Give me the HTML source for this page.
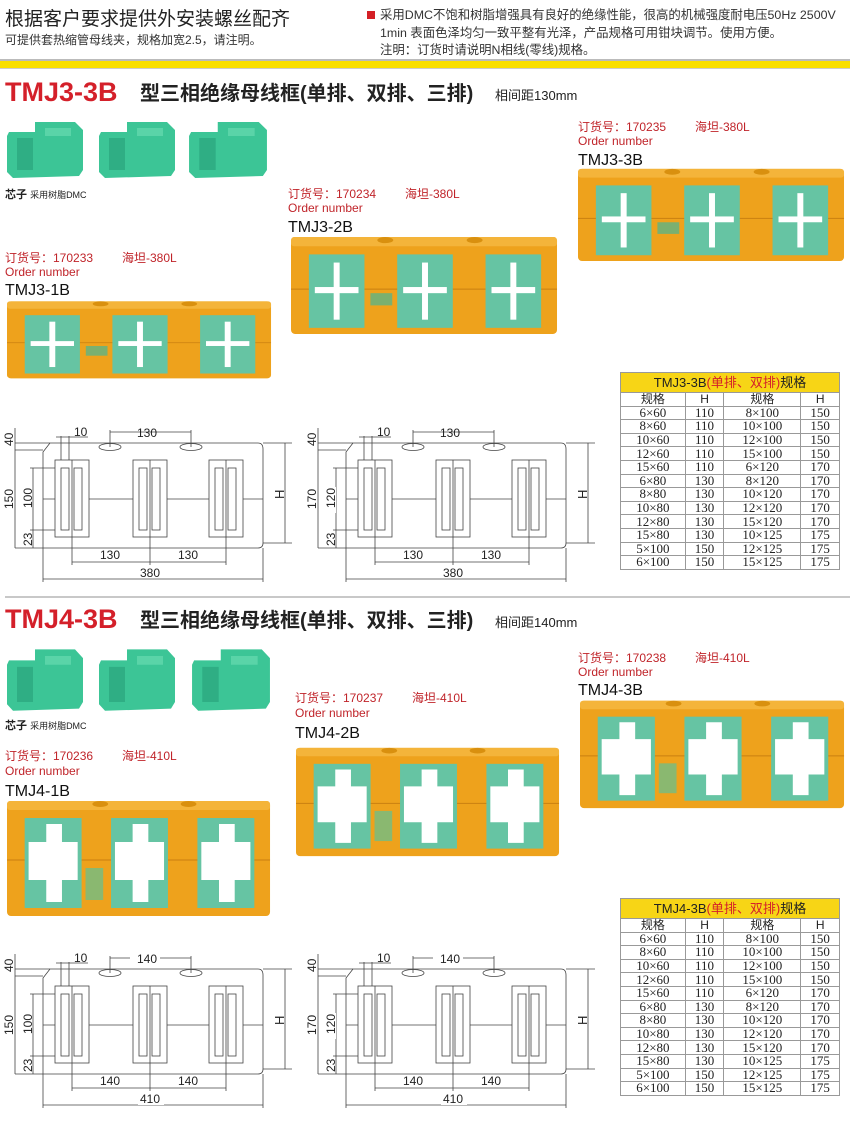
<!DOCTYPE html>
<html><head><meta charset="utf-8"><style>
html,body{margin:0;padding:0;background:#fff}
body{width:850px;height:1121px;position:relative;overflow:hidden;font-family:"Liberation Sans","Noto Sans CJK SC",sans-serif}
svg text{font-family:"Liberation Sans","Noto Sans CJK SC",sans-serif}
.tb{position:absolute;left:620px;width:220px;border-collapse:collapse;font-family:"Liberation Serif","Noto Serif CJK SC",serif;font-size:13px;color:#222}
.tb td{border:1px solid #999;height:12.6px;padding:0;line-height:12px;text-align:center}
.tb tr.h td{background:#f7d516;height:19px;font-family:"Liberation Sans","Noto Sans CJK SC",sans-serif;font-size:13px}
.tb tr.s td{font-family:"Liberation Sans","Noto Sans CJK SC",sans-serif;font-size:12px}
</style></head><body>
<svg width="850" height="1121" viewBox="0 0 850 1121" style="position:absolute;left:0;top:0">
<defs>
<symbol id="f1" viewBox="0 0 270 100" preserveAspectRatio="none">
<rect x="0" y="3" width="268" height="95" rx="4" fill="#eea21c"/>
<rect x="0" y="3" width="268" height="9" rx="3" fill="#f4b43a"/>
<line x1="0" y1="54" x2="268" y2="54" stroke="#c97f10" stroke-width="1"/>
<ellipse cx="95" cy="6" rx="8" ry="3" fill="#d9900f"/><ellipse cx="185" cy="6" rx="8" ry="3" fill="#d9900f"/>
<g fill="#66c4a3"><rect x="18" y="20" width="56" height="72"/><rect x="107" y="20" width="56" height="72"/><rect x="196" y="20" width="56" height="72"/></g>
<g fill="#fff"><rect x="43" y="28" width="6" height="56"/><rect x="24" y="52" width="44" height="6"/><rect x="132" y="28" width="6" height="56"/><rect x="113" y="52" width="44" height="6"/><rect x="221" y="28" width="6" height="56"/><rect x="202" y="52" width="44" height="6"/></g>
<rect x="80" y="58" width="22" height="12" fill="#7ab070"/>
</symbol>
<symbol id="f2" viewBox="0 0 270 120" preserveAspectRatio="none">
<rect x="0" y="3" width="268" height="115" rx="4" fill="#eea21c"/>
<rect x="0" y="3" width="268" height="9" rx="3" fill="#f4b43a"/>
<line x1="0" y1="62" x2="268" y2="62" stroke="#c97f10" stroke-width="1"/>
<ellipse cx="95" cy="6" rx="8" ry="3" fill="#d9900f"/><ellipse cx="185" cy="6" rx="8" ry="3" fill="#d9900f"/>
<g fill="#66c4a3"><rect x="18" y="20" width="58" height="90"/><rect x="106" y="20" width="58" height="90"/><rect x="194" y="20" width="58" height="90"/></g>
<g fill="#fff"><polygon points="40,26 56,26 56,44 72,44 72,82 56,82 56,104 40,104 40,82 22,82 22,44 40,44"/><polygon points="128,26 144,26 144,44 160,44 160,82 144,82 144,104 128,104 128,82 110,82 110,44 128,44"/><polygon points="216,26 232,26 232,44 248,44 248,82 232,82 232,104 216,104 216,82 198,82 198,44 216,44"/></g>
<rect x="80" y="70" width="18" height="32" fill="#8ab870"/>
</symbol>
<symbol id="c" viewBox="0 0 80 62" preserveAspectRatio="none">
<polygon points="4,14 30,14 30,4 70,4 78,12 78,52 74,58 8,60 2,54 2,18" fill="#3cc596"/>
<polygon points="12,20 28,20 28,52 12,52" fill="#2fae84"/>
<polygon points="40,10 66,10 66,18 40,18" fill="#5ad4a8"/>
</symbol>
<g id="dr">
<g fill="none" stroke="#444" stroke-width="0.8">
<path d="M50 443 L258 443 Q263 443 263 449 L263 543 Q263 548 258 548 L43 548 L43 452 Z"/>
<line x1="15" y1="450" x2="43" y2="450"/><line x1="15" y1="443" x2="50" y2="443"/>
<line x1="263" y1="443" x2="292" y2="443"/><line x1="263" y1="543" x2="292" y2="543"/>
<line x1="285" y1="443" x2="285" y2="543"/>
<line x1="15" y1="450" x2="15" y2="548"/><line x1="15" y1="548" x2="43" y2="548"/>
<line x1="33" y1="468" x2="33" y2="548"/><line x1="30" y1="468" x2="62" y2="468"/><line x1="30" y1="530" x2="62" y2="530"/>
<line x1="15" y1="428" x2="15" y2="450"/>
<ellipse cx="110" cy="447" rx="11" ry="3.5"/><ellipse cx="191" cy="447" rx="11" ry="3.5"/>
<line x1="110" y1="432" x2="191" y2="432"/><line x1="110" y1="430" x2="110" y2="447"/><line x1="191" y1="430" x2="191" y2="447"/>
<line x1="61" y1="436" x2="61" y2="530"/><line x1="69" y1="436" x2="69" y2="530"/><line x1="56" y1="437" x2="88" y2="437"/>
<line x1="43" y1="499" x2="263" y2="499"/>
<rect x="55" y="460" width="34" height="77" fill="#fff"/><rect x="61" y="468" width="8" height="62"/><rect x="74" y="468" width="8" height="62"/>
<rect x="133" y="460" width="34" height="77" fill="#fff"/><rect x="139" y="468" width="8" height="62"/><rect x="152" y="468" width="8" height="62"/>
<rect x="209" y="460" width="34" height="77" fill="#fff"/><rect x="215" y="468" width="8" height="62"/><rect x="228" y="468" width="8" height="62"/>
<line x1="72" y1="460" x2="72" y2="565"/><line x1="150" y1="460" x2="150" y2="565"/><line x1="226" y1="460" x2="226" y2="565"/>
<line x1="72" y1="562" x2="226" y2="562"/>
<line x1="43" y1="548" x2="43" y2="582"/><line x1="263" y1="548" x2="263" y2="582"/>
<line x1="43" y1="579" x2="263" y2="579"/>
</g>
<g font-size="12" fill="#222">
<text x="74" y="436">10</text>
<text x="137" y="437">130</text>
<text x="100" y="559">130</text><text x="178" y="559">130</text>
<text x="140" y="577">380</text>
<text transform="translate(13,446) rotate(-90)">40</text>
<text transform="translate(13,509) rotate(-90)">150</text>
<text transform="translate(32,508) rotate(-90)">100</text>
<text transform="translate(32,546) rotate(-90)">23</text>
<text transform="translate(284,499) rotate(-90)" font-size="13">H</text>
</g>
</g>
</defs>

<!-- header -->
<text x="5" y="25" font-size="19" fill="#222">根据客户要求提供外安装螺丝配齐</text>
<text x="5" y="44" font-size="12" fill="#333">可提供套热缩管母线夹，规格加宽2.5，请注明。</text>
<rect x="367" y="11" width="8" height="8" fill="#d42026"/>
<text x="380" y="19" font-size="12.4" fill="#333">采用DMC不饱和树脂增强具有良好的绝缘性能，很高的机械强度耐电压50Hz 2500V</text>
<text x="380" y="37" font-size="12.4" fill="#333">1min 表面色泽均匀一致平整有光泽，产品规格可用钳块调节。使用方便。</text>
<text x="380" y="54" font-size="12.4" fill="#333">注明：订货时请说明N相线(零线)规格。</text>
<rect x="0" y="59" width="850" height="2" fill="#bbb"/>
<rect x="0" y="61" width="850" height="7" fill="#f9df00"/>
<rect x="0" y="68" width="850" height="1" fill="#ccc"/>

<!-- section 1 -->
<text x="5" y="101" font-size="27" font-weight="bold" fill="#d4202a">TMJ3-3B</text>
<text x="140" y="100" font-size="20" font-weight="bold" fill="#222">型三相绝缘母线框(单排、双排、三排)</text>
<text x="495" y="100" font-size="13" fill="#222">相间距130mm</text>
<use href="#c" x="5" y="118" width="80" height="62"/><use href="#c" x="97" y="118" width="80" height="62"/><use href="#c" x="187" y="118" width="82" height="62"/>
<text x="5" y="198" font-size="11" font-weight="bold" fill="#222">芯子 <tspan font-size="9" font-weight="normal">采用树脂DMC</tspan></text>
<g font-size="12" fill="#c0242a"><text x="5" y="262">订货号：170233</text><text x="122" y="262">海坦-380L</text><text x="5" y="276">Order number</text>
<text x="288" y="198">订货号：170234</text><text x="405" y="198">海坦-380L</text><text x="288" y="212">Order number</text>
<text x="578" y="131">订货号：170235</text><text x="695" y="131">海坦-380L</text><text x="578" y="145">Order number</text></g>
<g font-size="16" fill="#111"><text x="5" y="295">TMJ3-1B</text><text x="288" y="232">TMJ3-2B</text><text x="578" y="165">TMJ3-3B</text></g>
<use href="#f1" x="7" y="299" width="266" height="81"/>
<use href="#f1" x="291" y="234" width="268" height="102"/>
<use href="#f1" x="578" y="166" width="268" height="97"/>
<use href="#dr"/>
<g transform="translate(303,0)"><use href="#dr"/></g>

<!-- section 2 -->
<rect x="5" y="596" width="845" height="2" fill="#c8c8c8"/>
<text x="5" y="628" font-size="27" font-weight="bold" fill="#d4202a">TMJ4-3B</text>
<text x="140" y="627" font-size="20" font-weight="bold" fill="#222">型三相绝缘母线框(单排、双排、三排)</text>
<text x="495" y="627" font-size="13" fill="#222">相间距140mm</text>
<use href="#c" x="5" y="645" width="80" height="68"/><use href="#c" x="97" y="645" width="80" height="68"/><use href="#c" x="190" y="645" width="82" height="68"/>
<text x="5" y="729" font-size="11" font-weight="bold" fill="#222">芯子 <tspan font-size="9" font-weight="normal">采用树脂DMC</tspan></text>
<g font-size="12" fill="#c0242a"><text x="5" y="760">订货号：170236</text><text x="122" y="760">海坦-410L</text><text x="5" y="775">Order number</text>
<text x="295" y="702">订货号：170237</text><text x="412" y="702">海坦-410L</text><text x="295" y="717">Order number</text>
<text x="578" y="662">订货号：170238</text><text x="695" y="662">海坦-410L</text><text x="578" y="676">Order number</text></g>
<g font-size="16" fill="#111"><text x="5" y="796">TMJ4-1B</text><text x="295" y="738">TMJ4-2B</text><text x="578" y="695">TMJ4-3B</text></g>
<use href="#f2" x="7" y="798" width="265" height="120"/>
<use href="#f2" x="296" y="745" width="265" height="113"/>
<use href="#f2" x="580" y="698" width="266" height="112"/>
<g transform="translate(0,526)"><use href="#dr"/></g>
<g transform="translate(303,526)"><use href="#dr"/></g>
<g font-size="12" fill="#222">
<rect x="130" y="952" width="30" height="11" fill="#fff"/><text x="137" y="963">140</text>
<rect x="433" y="952" width="30" height="11" fill="#fff"/><text x="440" y="963">140</text>
<rect x="98" y="1075" width="30" height="12" fill="#fff"/><text x="100" y="1085">140</text>
<rect x="176" y="1075" width="30" height="12" fill="#fff"/><text x="178" y="1085">140</text>
<rect x="401" y="1075" width="30" height="12" fill="#fff"/><text x="403" y="1085">140</text>
<rect x="479" y="1075" width="30" height="12" fill="#fff"/><text x="481" y="1085">140</text>
<rect x="138" y="1093" width="26" height="12" fill="#fff"/><text x="140" y="1103">410</text>
<rect x="441" y="1093" width="26" height="12" fill="#fff"/><text x="443" y="1103">410</text>
</g>
<g font-size="12" fill="#222">
<rect x="305" y="490" width="12" height="26" fill="#fff"/><text transform="translate(316,509) rotate(-90)">170</text>
<rect x="324" y="487" width="12" height="26" fill="#fff"/><text transform="translate(335,508) rotate(-90)">120</text>
<rect x="305" y="1016" width="12" height="26" fill="#fff"/><text transform="translate(316,1035) rotate(-90)">170</text>
<rect x="324" y="1013" width="12" height="26" fill="#fff"/><text transform="translate(335,1034) rotate(-90)">120</text>
</g>
</svg>

<table class="tb" style="top:372px">
<tr class="h"><td colspan="4">TMJ3-3B<span style="color:#d4202a">(单排、双排)</span>规格</td></tr>
<tr class="s"><td>规格</td><td>H</td><td>规格</td><td>H</td></tr>
<tr><td>6×60</td><td>110</td><td>8×100</td><td>150</td></tr>
<tr><td>8×60</td><td>110</td><td>10×100</td><td>150</td></tr>
<tr><td>10×60</td><td>110</td><td>12×100</td><td>150</td></tr>
<tr><td>12×60</td><td>110</td><td>15×100</td><td>150</td></tr>
<tr><td>15×60</td><td>110</td><td>6×120</td><td>170</td></tr>
<tr><td>6×80</td><td>130</td><td>8×120</td><td>170</td></tr>
<tr><td>8×80</td><td>130</td><td>10×120</td><td>170</td></tr>
<tr><td>10×80</td><td>130</td><td>12×120</td><td>170</td></tr>
<tr><td>12×80</td><td>130</td><td>15×120</td><td>170</td></tr>
<tr><td>15×80</td><td>130</td><td>10×125</td><td>175</td></tr>
<tr><td>5×100</td><td>150</td><td>12×125</td><td>175</td></tr>
<tr><td>6×100</td><td>150</td><td>15×125</td><td>175</td></tr>
</table>
<table class="tb" style="top:898px">
<tr class="h"><td colspan="4">TMJ4-3B<span style="color:#d4202a">(单排、双排)</span>规格</td></tr>
<tr class="s"><td>规格</td><td>H</td><td>规格</td><td>H</td></tr>
<tr><td>6×60</td><td>110</td><td>8×100</td><td>150</td></tr>
<tr><td>8×60</td><td>110</td><td>10×100</td><td>150</td></tr>
<tr><td>10×60</td><td>110</td><td>12×100</td><td>150</td></tr>
<tr><td>12×60</td><td>110</td><td>15×100</td><td>150</td></tr>
<tr><td>15×60</td><td>110</td><td>6×120</td><td>170</td></tr>
<tr><td>6×80</td><td>130</td><td>8×120</td><td>170</td></tr>
<tr><td>8×80</td><td>130</td><td>10×120</td><td>170</td></tr>
<tr><td>10×80</td><td>130</td><td>12×120</td><td>170</td></tr>
<tr><td>12×80</td><td>130</td><td>15×120</td><td>170</td></tr>
<tr><td>15×80</td><td>130</td><td>10×125</td><td>175</td></tr>
<tr><td>5×100</td><td>150</td><td>12×125</td><td>175</td></tr>
<tr><td>6×100</td><td>150</td><td>15×125</td><td>175</td></tr>
</table>
</body></html>
